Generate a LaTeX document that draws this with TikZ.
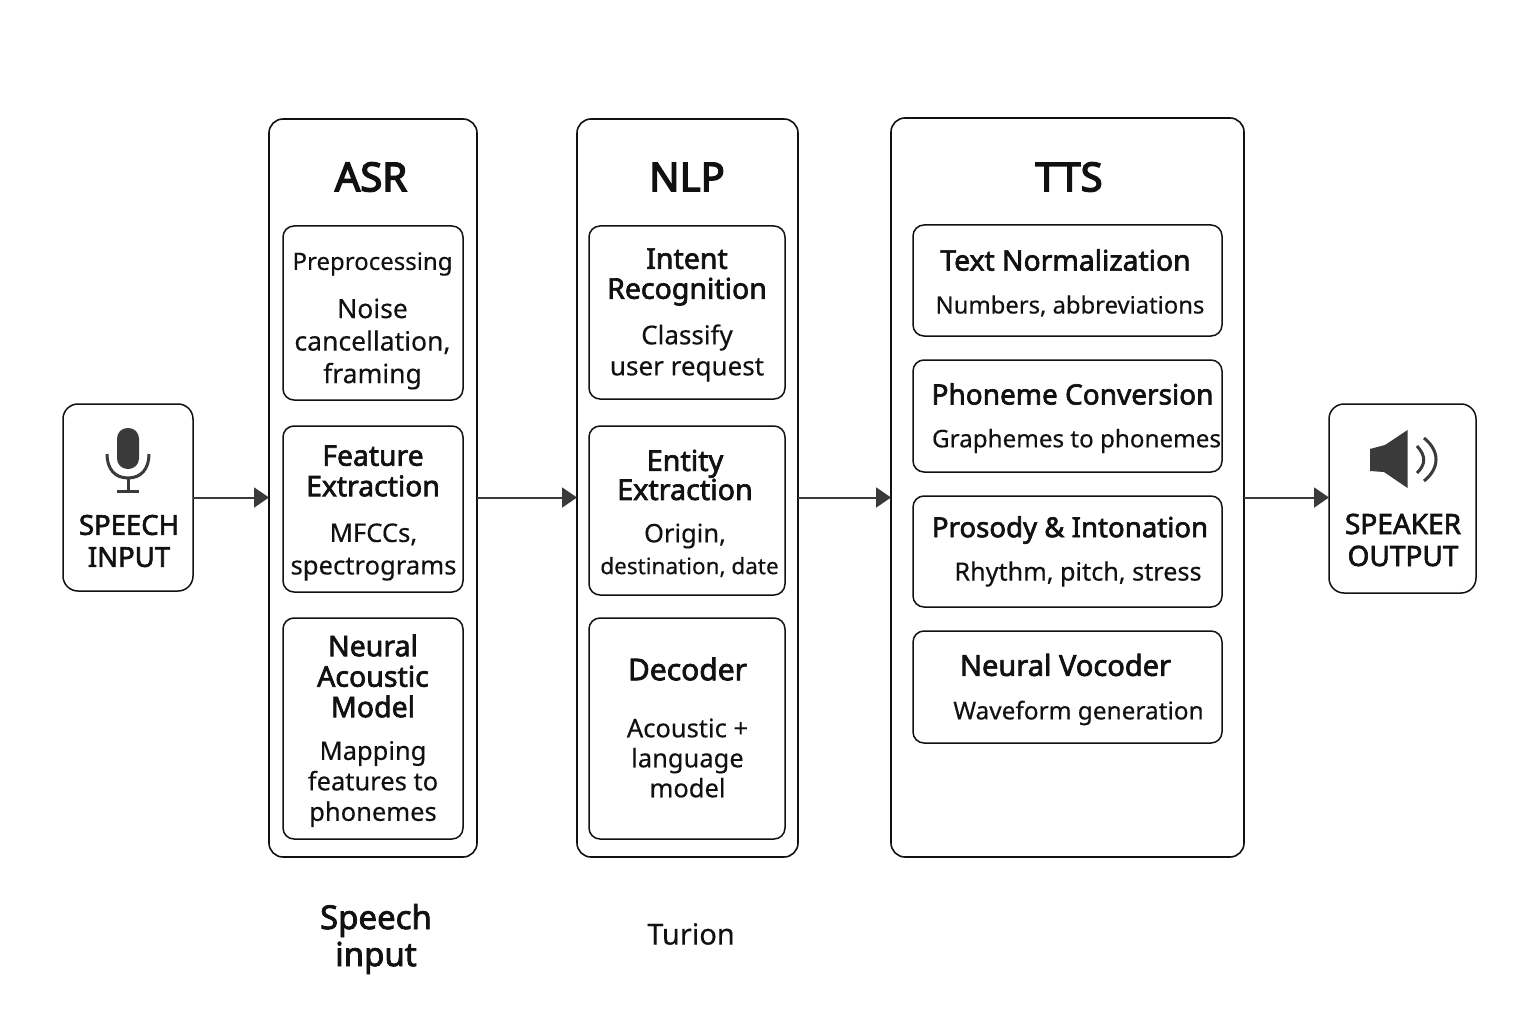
\documentclass[tikz,border=0pt]{standalone}
\usepackage{fontspec}
\setmainfont{Noto Sans}[FakeBold=0.3]
\newfontfamily\headf{Noto Sans}[FakeBold=3.5]
\newfontfamily\subf{Noto Sans}[FakeBold=2.3]
\newcommand{\fs}[2]{\fontsize{#1}{#2}\selectfont}
\definecolor{ink}{HTML}{111111}
\definecolor{iconc}{HTML}{3A3A3A}
\usetikzlibrary{arrows.meta}
\tikzset{
  panel/.style={draw=ink,line width=1.6pt,rounded corners=14pt,fill=white},
  card/.style={draw=ink,line width=1.5pt,rounded corners=11pt,fill=white},
  endbox/.style={draw=ink,line width=1.5pt,rounded corners=15pt,fill=white},
  flow/.style={draw=iconc,line width=2pt,-{Triangle[length=15pt,width=20pt,fill=iconc]}},
  head/.style={text=ink,align=center,inner sep=0pt,font=\headf\fs{40}{44}},
  ctitle/.style={text=ink,align=center,inner sep=0pt,font=\subf\fs{28}{30}},
  cbody/.style={text=ink,align=center,inner sep=0pt,font=\fs{24.4}{31}},
  etxt/.style={text=ink,align=center,inner sep=0pt,font=\subf\fs{27.5}{32}},
  icon/.style={fill=iconc,draw=none},
  iconl/.style={draw=iconc,line width=3pt,line cap=butt}
}
\newcommand{\bx}[6]{\node[#1,minimum width=#4pt-#2pt,minimum height=#5pt-#3pt,anchor=north west,inner sep=0pt,outer sep=0pt] (#6) at (#2,#3) {};}
\begin{document}
\begin{tikzpicture}[x=1pt,y=-1pt]
\useasboundingbox (0,0) rectangle (1536,1024);
\fill[white] (0,0) rectangle (1536,1024);
% panels
\bx{endbox}{63}{404}{193}{591}{input}
\bx{panel}{269}{119}{477}{857}{asr}
\bx{panel}{577}{119}{798}{857}{nlp}
\bx{panel}{891}{118}{1244}{857}{tts}
\bx{endbox}{1329}{404}{1476}{593}{output}
% connectors
\draw[flow] (input.east) -- (input.east -| asr.west);
\draw[flow] (input.east -| asr.east) -- (input.east -| nlp.west);
\draw[flow] (input.east -| nlp.east) -- (input.east -| tts.west);
\draw[flow] (input.east -| tts.east) -- (input.east -| output.west);
% cards
\bx{card}{283}{226}{463}{400}{a1}
\bx{card}{283}{426}{463}{592}{a2}
\bx{card}{283}{618}{463}{839}{a3}
\bx{card}{589}{226}{785}{399}{n1}
\bx{card}{589}{426}{785}{595}{n2}
\bx{card}{589}{618}{785}{839}{n3}
\bx{card}{913}{225}{1222}{336}{t1}
\bx{card}{913}{360}{1222}{472}{t2}
\bx{card}{913}{496}{1222}{607}{t3}
\bx{card}{913}{631}{1222}{743}{t4}
% headings
\node[head] (hasr) at (371,177) {ASR};
\node[head] (hnlp) at (687,177) {NLP};
\node[head] (htts) at (1069,177) {TTS};
% ASR text
\node[cbody,font=\fs{24}{31}] (a1a) at (372.5,264) {Preprocessing};
\node[cbody,font=\fs{26.5}{32.5}] (a1b) at (372.5,344) {Noise\\cancellation,\\framing};
\node[ctitle,font=\subf\fs{28.3}{30.5}] (a2a) at (373,471) {Feature\\Extraction};
\node[cbody,font=\fs{25.6}{32.5}] (a2b) at (373.5,552) {MFCCs,\\spectrograms};
\node[ctitle,font=\subf\fs{28.5}{30.5}] (a3a) at (373,676) {Neural\\Acoustic\\Model};
\node[cbody,font=\fs{25.5}{30.5}] (a3b) at (373,784) {Mapping\\features to\\phonemes};
% NLP text
\node[ctitle,font=\subf\fs{28.5}{30}] (n1a) at (687,277) {Intent\\Recognition};
\node[cbody,font=\fs{26}{31}] (n1b) at (687,353) {Classify\\user request};
\node[ctitle,font=\subf\fs{28.7}{28}] (n2a) at (685,475) {Entity\\Extraction};
\node[cbody,font=\fs{25.5}{31}] (n2c) at (685,536) {Origin,};
\node[cbody,font=\fs{22.5}{31}] (n2b) at (689.5,567) {destination, date};
\node[ctitle,font=\subf\fs{30}{32}] (n3a) at (687.5,669) {Decoder};
\node[cbody,font=\fs{25.5}{30}] (n3b) at (687.5,758) {Acoustic +\\language\\model};
% TTS text
\node[ctitle,font=\subf\fs{28.3}{32}] (t1a) at (1065.5,260) {Text Normalization};
\node[cbody,font=\fs{23.8}{31}] (t1b) at (1070,306) {Numbers, abbreviations};
\node[ctitle] (t2a) at (1072.5,394) {Phoneme Conversion};
\node[cbody,font=\fs{24.2}{31}] (t2b) at (1076.5,441) {Graphemes to phonemes};
\node[ctitle,font=\subf\fs{27.6}{32}] (t3a) at (1070,530) {Prosody \& Intonation};
\node[cbody,font=\fs{25.2}{31}] (t3b) at (1078,574) {Rhythm, pitch, stress};
\node[ctitle,font=\subf\fs{29}{32}] (t4a) at (1065.5,665) {Neural Vocoder};
\node[cbody] (t4b) at (1078.5,713) {Waveform generation};
% end boxes text
\node[etxt] (itxt) at (129,541) {SPEECH\\INPUT};
\node[etxt,font=\subf\fs{28}{32}] (otxt) at (1403,540) {SPEAKER\\OUTPUT};
% bottom captions
\node[text=ink,align=center,inner sep=0pt,font=\subf\fs{33}{37}] (c1) at (376,939) {Speech\\input};
\node[text=ink,align=center,inner sep=0pt,font=\fs{29}{36}] (c2) at (691,934) {Turion};
% microphone icon
\fill[icon,rounded corners=10.5pt] (117,428) rectangle (139,469);
\draw[iconl] (107,454) .. controls (107,469) and (115,478) .. (128,478) .. controls (141,478) and (149,469) .. (149,454);
\draw[iconl] (128,478) -- (128,491);
\draw[iconl] (117,491) -- (139,491);
% speaker icon
\fill[icon] (1370,449) -- (1385,445) -- (1407.5,430) -- (1407.5,488) -- (1384,472) -- (1370,471) -- cycle;
\draw[iconl] (1417,446) .. controls (1426,456) and (1426,464) .. (1417,473);
\draw[iconl] (1424,438) .. controls (1440,451) and (1440,468) .. (1424,481);
\end{tikzpicture}
\end{document}
